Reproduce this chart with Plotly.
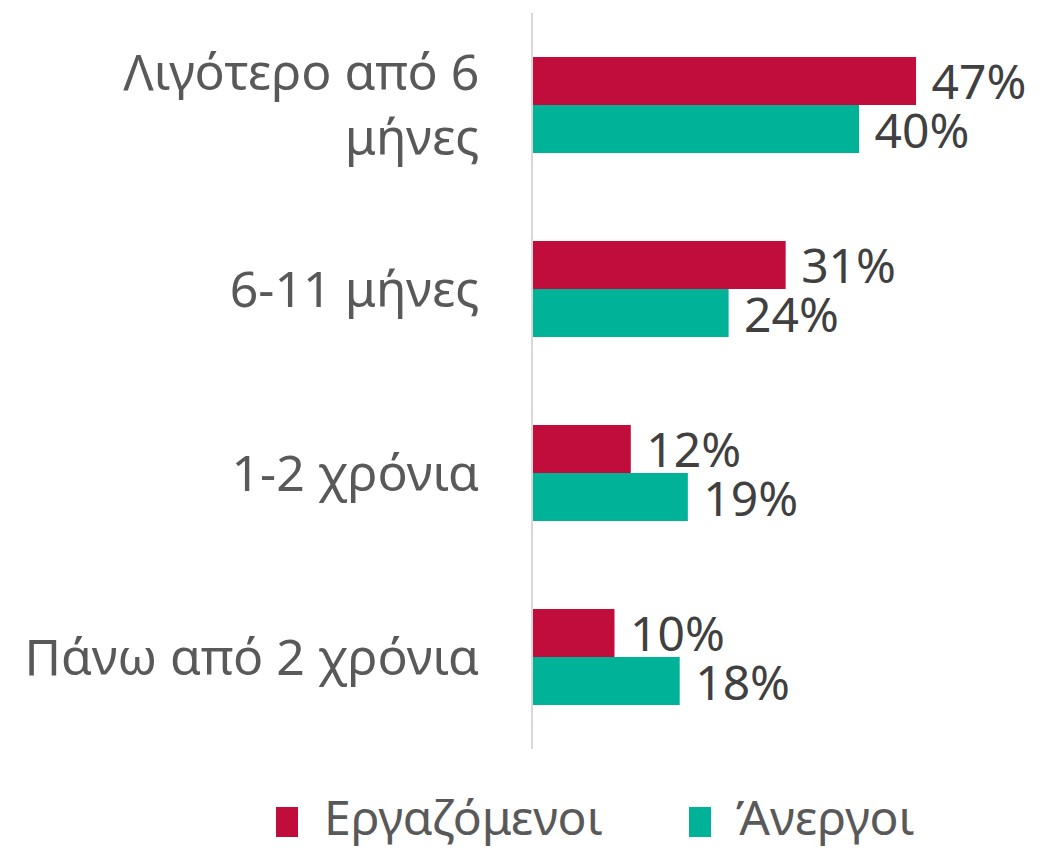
import plotly.graph_objects as go

categories = ["Λιγότερο από 6<br>μήνες", "6-11 μήνες", "1-2 χρόνια", "Πάνω από 2 χρόνια"]
employed = [47, 31, 12, 10]
unemployed = [40, 24, 19, 18]
series_names = ["Εργαζόμενοι", "Άνεργοι"]
colors = ["#C00D3C", "#00B398"]

OFF = 8  # page body margin
W, H = 1039 - OFF, 850 - OFF
L, T = 533 - OFF, 13 - OFF
plot_right, plot_bottom = 1020 - OFF, 749 - OFF
R, B = W - plot_right, H - plot_bottom
pw, ph = W - L - R, H - T - B

fig = go.Figure()
for name, vals, col in zip(series_names, [employed, unemployed], colors):
    fig.add_trace(go.Bar(
        y=categories, x=vals, name=name, orientation="h",
        marker=dict(color=col, line=dict(width=0)),
        text=[f"\u00a0{v}%" for v in vals], textposition="outside",
        constraintext="none",
        textfont=dict(size=48, color="#404040", family="Noto Sans"),
        cliponaxis=False, showlegend=False,
    ))

fig.update_layout(
    width=W, height=H,
    margin=dict(l=L, r=R, t=T, b=B),
    paper_bgcolor="white", plot_bgcolor="white",
    barmode="group", bargap=0.478, bargroupgap=0,
    font=dict(family="Noto Sans", color="#595959"),
    xaxis=dict(range=[0, pw / 8.15], showgrid=False, zeroline=False,
               showticklabels=False, showline=False, fixedrange=True),
    yaxis=dict(autorange="reversed", showgrid=False, zeroline=False,
               showline=True, linecolor="#D9D9D9", linewidth=1.5,
               tickfont=dict(size=50, color="#595959", family="Noto Sans"),
               ticks="", ticklabelstandoff=42),
)

def px_x(p):
    return (p - OFF - L) / pw

def px_y(p):
    return (plot_bottom - (p - OFF)) / ph

legend_items = [(276, 298, 322), (689, 711, 734)]
for (x0, x1, tx), name, col in zip(legend_items, series_names, colors):
    fig.add_shape(type="rect", xref="paper", yref="paper",
                  x0=px_x(x0), x1=px_x(x1), y0=px_y(837), y1=px_y(807),
                  fillcolor=col, line=dict(width=0))
    fig.add_annotation(xref="paper", yref="paper", x=px_x(tx), y=px_y(816),
                       text=name, showarrow=False, xanchor="left", yanchor="middle",
                       font=dict(size=48, color="#595959", family="Noto Sans"))

fig.write_html("out.html")
